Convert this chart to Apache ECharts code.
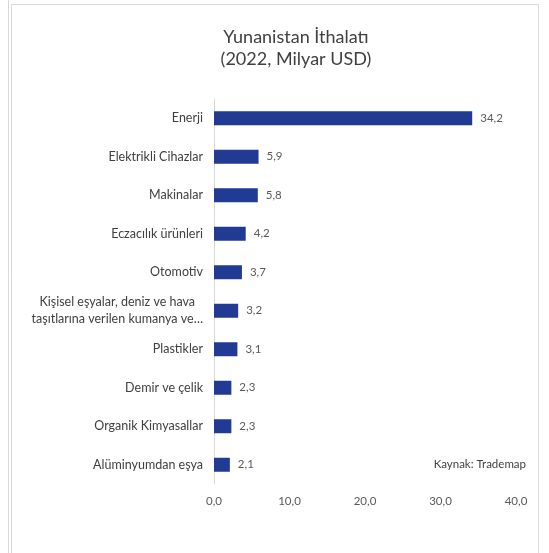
<!DOCTYPE html>
<html>
<head>
<meta charset="utf-8">
<script src="https://cdn.jsdelivr.net/npm/echarts@6/dist/echarts.min.js"></script>
<style>
html,body{margin:0;padding:0;background:#fff;}
#c{width:549px;height:553px;}
</style>
</head>
<body>
<div id="c"></div>
<script>
const categories = [
  "Enerji",
  "Elektrikli Cihazlar",
  "Makinalar",
  "Eczacılık ürünleri",
  "Otomotiv",
  "Kişisel eşyalar, deniz ve hava\ntaşıtlarına verilen kumanya ve…",
  "Plastikler",
  "Demir ve çelik",
  "Organik Kimyasallar",
  "Alüminyumdan eşya"
];
const values = [34.2, 5.9, 5.8, 4.2, 3.7, 3.2, 3.1, 2.3, 2.3, 2.1];
const xTicks = [0, 10, 20, 30, 40];

const FONT = "Lato, 'Open Sans', sans-serif";
const fmt = v => v.toFixed(1).replace('.', ',');

const chart = echarts.init(document.getElementById('c'), null, {renderer: 'canvas'});
chart.setOption({
  animation: false,
  backgroundColor: '#ffffff',
  title: {
    text: 'Yunanistan İthalatı\n(2022, Milyar USD)',
    left: 291,
    textAlign: 'center',
    top: 21,
    textStyle: {
      fontFamily: FONT,
      fontSize: 18,
      fontWeight: 'normal',
      color: '#404040',
      lineHeight: 22,
      align: 'center'
    }
  },
  graphic: [
    {type: 'line', shape: {x1: 8.5, y1: 0, x2: 8.5, y2: 553}, style: {stroke: '#d9d9d9', lineWidth: 1}},
    {type: 'polyline', shape: {points: [[11.5, 553], [11.5, 4.5], [538.5, 4.5], [538.5, 553]]}, style: {stroke: '#d9d9d9', lineWidth: 1, fill: null}},
    {type: 'text', right: 23, top: 458, style: {text: 'Kaynak: Trademap', font: '11.5px ' + FONT, fill: '#404040'}}
  ],
  grid: {left: 214, right: 33, top: 99, bottom: 69, containLabel: false},
  xAxis: {
    type: 'value',
    min: xTicks[0],
    max: xTicks[xTicks.length - 1],
    interval: 10,
    splitLine: {show: false},
    axisLine: {show: false},
    axisTick: {show: false},
    axisLabel: {
      formatter: v => fmt(v),
      fontFamily: FONT,
      fontSize: 11.5,
      color: '#595959',
      margin: 11
    }
  },
  yAxis: {
    type: 'category',
    inverse: true,
    data: categories,
    axisLine: {show: true, lineStyle: {color: '#d9d9d9', width: 1}},
    axisTick: {show: false},
    axisLabel: {
      fontFamily: FONT,
      fontSize: 12.5,
      color: '#404040',
      margin: 11,
      lineHeight: 17,
      formatter: v => v.indexOf('\n') >= 0 ? v.split('\n').map(s => '{c|' + s + '}').join('\n') : v,
      rich: {c: {align: 'center', fontFamily: FONT, fontSize: 12.5, color: '#404040', lineHeight: 17}}
    }
  },
  series: [{
    type: 'bar',
    data: values,
    barWidth: 14,
    itemStyle: {color: '#213A93'},
    label: {
      show: true,
      position: 'right',
      distance: 8,
      formatter: p => fmt(p.value),
      fontFamily: FONT,
      fontSize: 11.5,
      color: '#595959'
    }
  }]
});
</script>
</body>
</html>
